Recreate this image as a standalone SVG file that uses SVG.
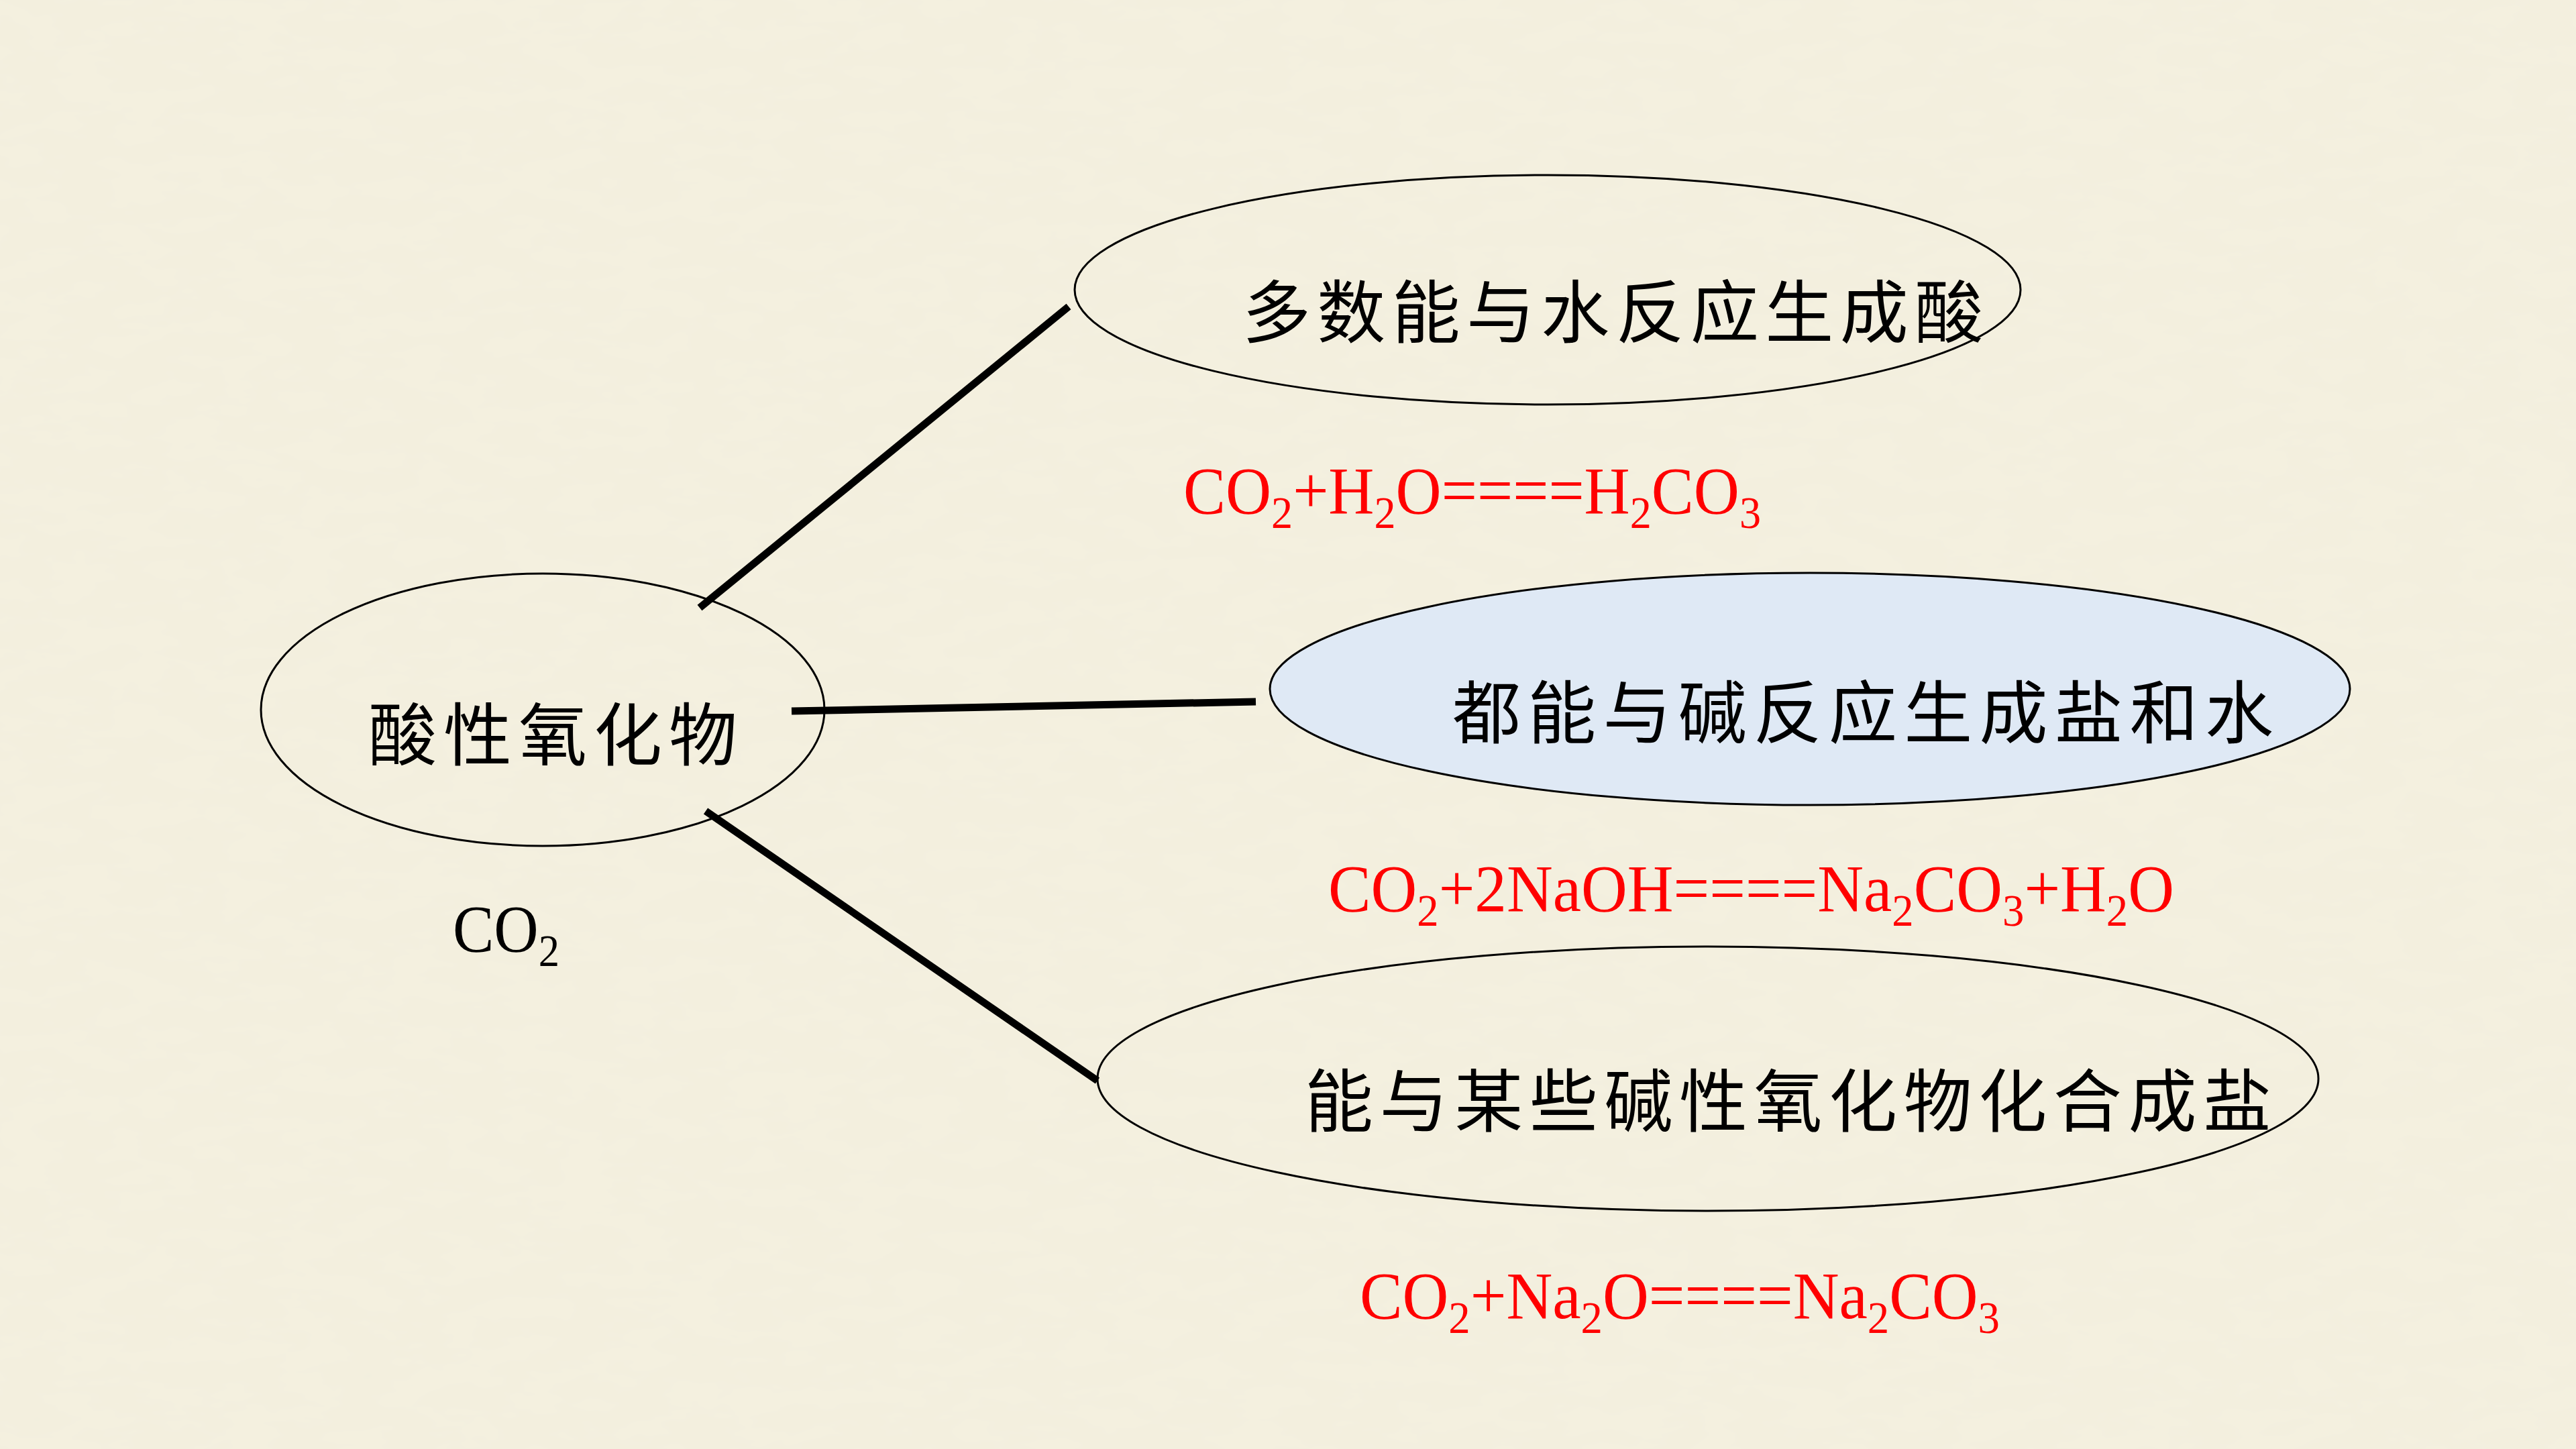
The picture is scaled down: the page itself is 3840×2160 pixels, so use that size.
<svg xmlns="http://www.w3.org/2000/svg" width="3840" height="2160" viewBox="0 0 3840 2160">
  <defs>
    <filter id="paper" x="0" y="0" width="100%" height="100%">
      <feTurbulence type="fractalNoise" baseFrequency="0.012 0.03" numOctaves="3" seed="7" result="n"/>
      <feColorMatrix in="n" type="matrix" values="0 0 0 0 0.85  0 0 0 0 0.82  0 0 0 0 0.70  0 0 0 0.35 -0.08"/>
    </filter>
    <style>
      .node { fill: none; stroke: #000; stroke-width: 3; }
      .fill { fill: #dfe9f5; }
      .cn { font-family: "Noto Sans CJK SC", "Noto Sans CJK TC", sans-serif; font-size: 102px; fill: #000; }
      .fm { font-family: "Liberation Serif", "Times New Roman", serif; font-size: 100px; fill: #ff0000; }
      .blk { fill: #000; }
      .sub { font-size: 68px; }
      .conn line { stroke: #000; stroke-width: 11; stroke-linecap: butt; }
    </style>
  </defs>

  <rect x="0" y="0" width="3840" height="2160" fill="#f4f0df"/>
  <rect x="0" y="0" width="3840" height="2160" filter="url(#paper)"/>

  <g id="connectors" class="conn">
    <line x1="1043" y1="906" x2="1593" y2="457"/>
    <line x1="1180" y1="1060" x2="1872" y2="1046"/>
    <line x1="1052" y1="1209" x2="1636" y2="1611"/>
  </g>

  <g id="node-acid-oxide">
    <ellipse class="node" cx="809" cy="1058" rx="420" ry="203"/>
    <text class="cn" x="549" y="1133" textLength="550" lengthAdjust="spacing">酸性氧化物</text>
  </g>

  <g id="label-co2">
    <text class="fm blk" x="675" y="1418" textLength="159" lengthAdjust="spacingAndGlyphs">CO<tspan class="sub" dy="22">2</tspan></text>
  </g>

  <g id="node-water">
    <ellipse class="node" cx="2307" cy="432" rx="705" ry="171"/>
    <text class="cn" x="1852" y="503" textLength="1104" lengthAdjust="spacing">多数能与水反应生成酸</text>
  </g>

  <g id="eq-water">
    <text class="fm" x="1764" y="765" textLength="861" lengthAdjust="spacingAndGlyphs">CO<tspan class="sub" dy="22">2</tspan><tspan dy="-22">+H</tspan><tspan class="sub" dy="22">2</tspan><tspan dy="-22">O====H</tspan><tspan class="sub" dy="22">2</tspan><tspan dy="-22">CO</tspan><tspan class="sub" dy="22">3</tspan></text>
  </g>

  <g id="node-base">
    <ellipse class="node fill" cx="2698" cy="1027" rx="805" ry="173"/>
    <text class="cn" x="2165" y="1100" textLength="1224" lengthAdjust="spacing">都能与碱反应生成盐和水</text>
  </g>

  <g id="eq-base">
    <text class="fm" x="1980" y="1358" textLength="1261" lengthAdjust="spacingAndGlyphs">CO<tspan class="sub" dy="22">2</tspan><tspan dy="-22">+2NaOH====Na</tspan><tspan class="sub" dy="22">2</tspan><tspan dy="-22">CO</tspan><tspan class="sub" dy="22">3</tspan><tspan dy="-22">+H</tspan><tspan class="sub" dy="22">2</tspan><tspan dy="-22">O</tspan></text>
  </g>

  <g id="node-basic-oxide">
    <ellipse class="node" cx="2546" cy="1608" rx="910" ry="197"/>
    <text class="cn" x="1945" y="1679" textLength="1441" lengthAdjust="spacing">能与某些碱性氧化物化合成盐</text>
  </g>

  <g id="eq-basic-oxide">
    <text class="fm" x="2027" y="1965" textLength="954" lengthAdjust="spacingAndGlyphs">CO<tspan class="sub" dy="22">2</tspan><tspan dy="-22">+Na</tspan><tspan class="sub" dy="22">2</tspan><tspan dy="-22">O====Na</tspan><tspan class="sub" dy="22">2</tspan><tspan dy="-22">CO</tspan><tspan class="sub" dy="22">3</tspan></text>
  </g>
</svg>
